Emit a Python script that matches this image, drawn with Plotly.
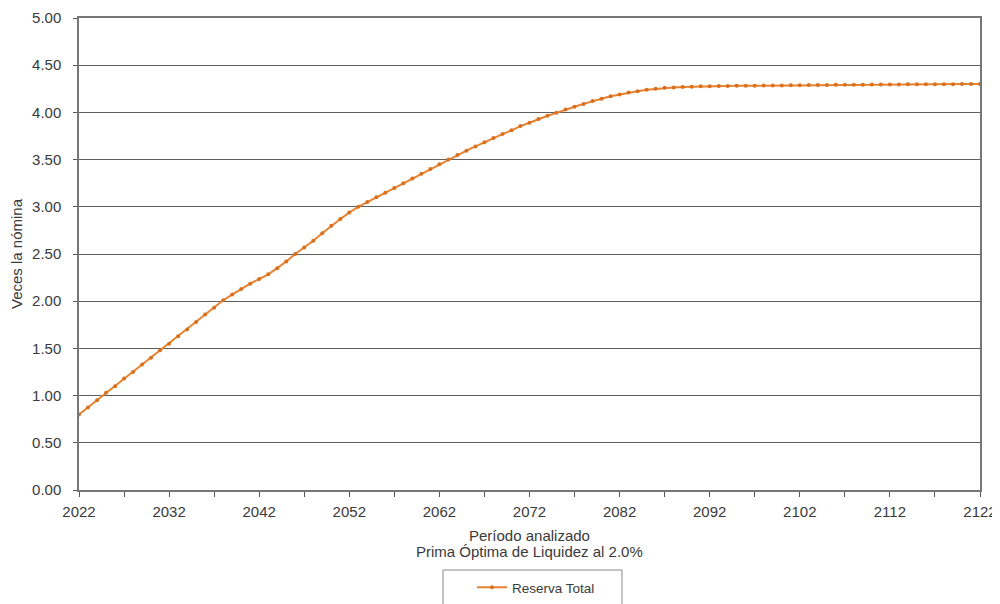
import plotly.graph_objects as go

years = list(range(2022, 2123))
reserva_total = [
    0.80, 0.875, 0.95, 1.03, 1.10, 1.18, 1.25, 1.33, 1.40, 1.48,
    1.55, 1.63, 1.70, 1.78, 1.86, 1.93, 2.01, 2.07, 2.13, 2.185,
    2.235, 2.285, 2.35, 2.42, 2.50, 2.57, 2.64, 2.72, 2.80, 2.87,
    2.94, 3.00, 3.05, 3.10, 3.15, 3.20, 3.25, 3.30, 3.35, 3.40,
    3.45, 3.50, 3.55, 3.595, 3.64, 3.685, 3.73, 3.77, 3.81, 3.855,
    3.89, 3.93, 3.965, 3.995, 4.03, 4.06, 4.09, 4.12, 4.145, 4.17,
    4.19, 4.21, 4.225, 4.24, 4.25, 4.26, 4.265, 4.27, 4.273, 4.276,
    4.278, 4.279, 4.280, 4.281, 4.282, 4.283, 4.284, 4.285, 4.286, 4.287,
    4.288, 4.289, 4.290, 4.291, 4.292, 4.293, 4.294, 4.294, 4.295, 4.295,
    4.296, 4.296, 4.297, 4.297, 4.298, 4.298, 4.299, 4.299, 4.300, 4.300,
    4.300,
]
x_tick_vals = list(range(2022, 2123, 5))
x_tick_text = [str(v) if (v - 2022) % 10 == 0 else "" for v in x_tick_vals]
y_tick_vals = [0, 0.5, 1.0, 1.5, 2.0, 2.5, 3.0, 3.5, 4.0, 4.5, 5.0]

FONT = "Liberation Sans"
TXT = "#3a3a3a"

# page has an 8px body margin; work in page pixels and convert
OFF = 8
FIG_W, FIG_H = 1000 - OFF, 604 - OFF
L, R, T, B = 79 - OFF, 980 - OFF, 18 - OFF, 490 - OFF
W, H = R - L, B - T


def px(xp):
    return (xp - OFF - L) / W


def py(yp):
    return (B - (yp - OFF)) / H


fig = go.Figure()
fig.add_trace(go.Scatter(
    x=years, y=reserva_total, mode="lines+markers", name="Reserva Total",
    line=dict(color="#E8822E", width=2),
    marker=dict(color="#D9701E", size=4),
))

fig.update_layout(
    width=FIG_W, height=FIG_H,
    margin=dict(l=L, r=FIG_W - R, t=T, b=FIG_H - B, autoexpand=False),
    paper_bgcolor="white", plot_bgcolor="white",
    font=dict(family=FONT, size=15, color=TXT),
    xaxis=dict(
        range=[2022, 2122], tickvals=x_tick_vals, ticktext=x_tick_text,
        showgrid=False, showline=True, linecolor="#777", linewidth=1.5,
        mirror=True, ticks="outside", ticklen=5, tickcolor="#555",
        tickfont=dict(size=15, color=TXT), zeroline=False, automargin=False,
        ticklabelstandoff=2,
    ),
    yaxis=dict(
        range=[0, 5], tickvals=y_tick_vals, tickformat=".2f",
        showgrid=True, gridcolor="#5e5e5e", gridwidth=1,
        showline=True, linecolor="#777", linewidth=1.5, mirror=True,
        ticks="outside", ticklen=4, tickcolor="#555",
        tickfont=dict(size=15, color=TXT), zeroline=False, automargin=False,
        ticklabelstandoff=9,
        title=dict(text="Veces la nómina", font=dict(size=15, color=TXT), standoff=6),
    ),
    showlegend=True,
    legend=dict(
        orientation="h", x=px(472), xanchor="left", y=py(572), yanchor="top",
        borderwidth=0, bgcolor="rgba(0,0,0,0)",
        font=dict(size=13.5, color=TXT),
    ),
    shapes=[
        dict(type="rect", xref="paper", yref="paper",
             x0=px(443), x1=px(622), y0=py(612), y1=py(570),
             line=dict(color="#888", width=1), fillcolor="rgba(0,0,0,0)", layer="below"),
    ],
    annotations=[
        dict(text="Período analizado", xref="paper", yref="paper",
             x=0.5, y=py(525), xanchor="center", yanchor="top",
             showarrow=False, font=dict(size=15, color=TXT)),
        dict(text="Prima Óptima de Liquidez al 2.0%", xref="paper", yref="paper",
             x=0.5, y=py(541), xanchor="center", yanchor="top",
             showarrow=False, font=dict(size=15, color=TXT)),
    ],
)

fig.write_html("out.html")
